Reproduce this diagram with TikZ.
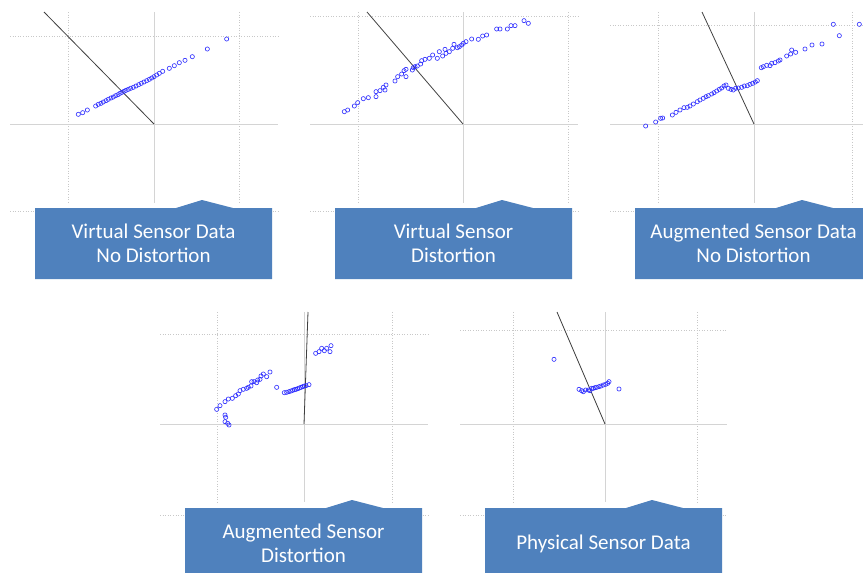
\documentclass[tikz,border=0pt]{standalone}
\usepackage{fontspec}
\setmainfont{Carlito}
\definecolor{boxblue}{HTML}{4F81BD}
\definecolor{axisgray}{HTML}{D4D4D4}
\definecolor{gridgray}{HTML}{C8C8C8}
\definecolor{dotblue}{HTML}{2B2BFF}
\definecolor{fitline}{HTML}{404040}
\tikzset{
  axisline/.style={draw=axisgray, line width=0.9pt},
  gridline/.style={draw=gridgray, line width=0.6pt, dotted},
  fitstroke/.style={draw=fitline, line width=0.8pt},
  sample/.style={draw=dotblue, line width=0.6pt},
  calloutfill/.style={fill=boxblue, draw=none},
  callouttext/.style={text=white, font=\fontsize{21}{24.5}\selectfont, align=center},
}
% scatter samples, given in thirds of a unit relative to a panel origin
\newcommand\samples[3]{\foreach \a/\b in {#3} \draw[sample] ({#1+\a/3},{#2+\b/3}) circle (2.1pt);}
% callout box: #1 name, #2 left, #3 top, #4 text
\newcommand\calloutbox[4]{%
  \fill[calloutfill] (#2,#3) -- ({#2+141},#3) -- ({#2+167},{#3-8}) -- ({#2+198},#3)
    -- ({#2+237},#3) -- ({#2+237},{#3+71}) -- (#2,{#3+71}) -- cycle;
  \node[callouttext] (#1) at ({#2+118.5},{#3+35.5}) {#4};}
\begin{document}
\begin{tikzpicture}[x=1pt,y=-1pt]
\clip (0,0) rectangle (863,573);
\fill[white] (0,0) rectangle (863,573);

% ---- panel 1: virtual sensor data, no distortion
\draw[gridline] (68,12) -- (68,203);
\draw[gridline] (239,12) -- (239,203);
\draw[gridline] (10,36) -- (278,36);
\draw[gridline] (10,211) -- (278,211);
\draw[axisline] (154,12) -- (154,203);
\draw[axisline] (10,124) -- (278,124);
\draw[fitstroke] (44,12) -- (154,124);
\samples{0}{0}{235/343,248/338,262/330,287/318,295/313,303/310,310/306,318/302,325/298,
  333/294,340/291,347/287,354/284,360/280,366/277,372/274,378/271,385/268,392/265,
  400/262,408/258,416/254,424/250,432/246,440/242,448/238,455/234,462/230,470/225,
  478/220,488/214,508/205,523/197,538/188,555/181,577/170,622/147,680/117}
\calloutbox{c1}{35}{208}{Virtual Sensor Data\\No Distortion}

% ---- panel 2: virtual sensor, distortion
\draw[gridline] (358,12) -- (358,203);
\draw[gridline] (568,12) -- (568,203);
\draw[gridline] (310,16) -- (578,16);
\draw[gridline] (310,211) -- (578,211);
\draw[axisline] (463,12) -- (463,203);
\draw[axisline] (310,124) -- (578,124);
\draw[fitstroke] (367,12) -- (463,124);
\samples{300}{0}{133/335,143/330,163/318,173/308,190/296,205/293,228/290,228/275,
  240/272,250/262,258/255,255/270,285/243,293/230,305/222,312/212,318/208,318/230,
  337/210,340/203,345/200,352/198,362/192,365/182,375/178,388/175,398/165,412/175,
  418/155,428/168,435/148,438/160,448/155,458/145,462/133,472/143,478/140,485/135,
  490/130,498/125,515/117,535/118,548/108,560/105,590/87,600/87,622/87,633/77,
  645/77,672/62,685/70}
\calloutbox{c2}{335}{208}{Virtual Sensor\\Distortion}

% ---- panel 3: augmented sensor data, no distortion
\draw[gridline] (658,12) -- (658,203);
\draw[gridline] (852,12) -- (852,203);
\draw[gridline] (610,25) -- (863,25);
\draw[gridline] (610,211) -- (863,211);
\draw[axisline] (754,12) -- (754,203);
\draw[axisline] (610,124) -- (863,124);
\draw[fitstroke] (702,12) -- (754,124);
\samples{600}{0}{137/378,167/366,182/355,188/354,217/345,228/337,240/330,252/323,
  262/322,270/318,280/312,292/305,300/300,310/295,318/290,325/287,335/282,342/278,
  350/273,358/268,365/264,372/258,378/255,385/265,393/268,400/270,407/265,415/264,
  425/262,433/258,442/257,450/253,458/250,466/246,472/242,484/203,490/200,500/196,
  510/197,515/190,525/188,535/183,540/180,560/168,572/162,575/150,587/157,615/147,
  636/135,666/132,700/73,718/107,778/73}
\calloutbox{c3}{635}{208}{Augmented Sensor Data\\No Distortion}

% ---- panel 4: augmented sensor, distortion
\draw[gridline] (217,312) -- (217,502);
\draw[gridline] (392,312) -- (392,502);
\draw[gridline] (160,334) -- (428,334);
\draw[gridline] (160,515) -- (428,515);
\draw[axisline] (304,312) -- (304,502);
\draw[axisline] (160,424) -- (428,424);
\draw[fitstroke] (308,312) -- (304,424);
\samples{155}{300}{185/328,195/317,210/305,220/297,232/295,242/287,250/282,255/272,
  265/268,275/265,280/262,288/258,290/245,297/245,305/248,308/240,315/238,318/228,
  325/222,335/230,345/216,210/345,212/352,210/365,218/370,222/375,
  365/262,388/278,395/277,402/275,408/273,413/271,418/269,423/268,428/266,433/264,
  438/262,443/260,448/258,453/257,462/254,
  482/160,492/155,500/145,508/152,515/145,525/155,528/137}
\calloutbox{c4}{185}{508}{Augmented Sensor\\Distortion}

% ---- panel 5: physical sensor data
\draw[gridline] (513,312) -- (513,502);
\draw[gridline] (697,312) -- (697,502);
\draw[gridline] (460,330) -- (727,330);
\draw[gridline] (460,515) -- (727,515);
\draw[axisline] (605,312) -- (605,502);
\draw[axisline] (460,424) -- (727,424);
\draw[fitstroke] (557,312) -- (605,424);
\samples{455}{300}{297/178,372/268,380/272,385/275,392/270,400/270,405/272,410/265,
  415/265,420/263,425/262,432/260,438/258,445/255,452/253,458/250,462/245,492/267}
\calloutbox{c5}{485}{508}{Physical Sensor Data}
\end{tikzpicture}
\end{document}
